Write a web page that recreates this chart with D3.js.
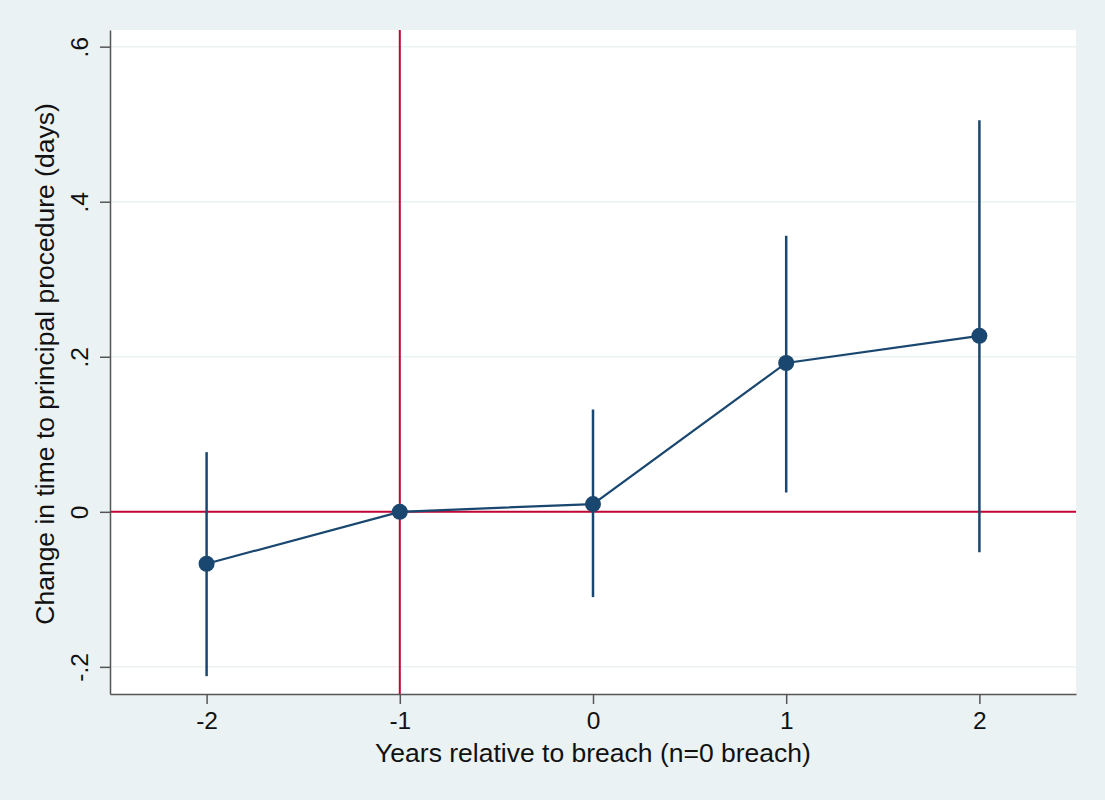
<!DOCTYPE html>
<html>
<head>
<meta charset="utf-8">
<script src="https://cdn.jsdelivr.net/npm/d3@7"></script>
<style>
  body { margin: 0; background: #eaf2f3; }
  text { font-family: "Liberation Sans", Arial, sans-serif; fill: #111; }
</style>
</head>
<body>
<div id="chart"></div>
<script>
const WIDTH = 1105, HEIGHT = 800;
const MARGIN = { top: 30, right: 29, bottom: 106, left: 110 };
const PLOT_W = WIDTH - MARGIN.left - MARGIN.right, PLOT_H = HEIGHT - MARGIN.top - MARGIN.bottom;

// data
const years = [-2, -1, 0, 1, 2];
const estimates = [-0.067, 0, 0.010, 0.192, 0.227];
const ciLow = [-0.212, null, -0.110, 0.025, -0.052];
const ciHigh = [0.077, null, 0.132, 0.356, 0.505];
const yTicks = [-0.2, 0, 0.2, 0.4, 0.6];
const yTickLabels = ["-.2", "0", ".2", ".4", ".6"];
const xTicks = [-2, -1, 0, 1, 2];
const xTickLabels = ["-2", "-1", "0", "1", "2"];
const refX = -1, refY = 0;

const NAVY = "#1a476f", RED = "#c10534";

const svg = d3.select("#chart").append("svg")
    .attr("width", WIDTH)
    .attr("height", HEIGHT);
svg.append("rect").attr("width", WIDTH).attr("height", HEIGHT).attr("fill", "#eaf2f3");

const g = svg.append("g").attr("transform", "translate(" + MARGIN.left + "," + MARGIN.top + ")");

let x = d3.scaleLinear().domain([-2.5, 2.5]).range([0, PLOT_W]);
let y = d3.scaleLinear().domain([-0.235, 0.6215]).range([PLOT_H, 0]);

g.append("rect").attr("width", PLOT_W).attr("height", PLOT_H).attr("fill", "#fff");

// gridlines
g.append("g").selectAll("line")
    .data(yTicks)
    .join("line")
    .attr("x1", 0).attr("x2", PLOT_W)
    .attr("y1", d => y(d)).attr("y2", d => y(d))
    .attr("stroke", "#eaf2f3")
    .attr("stroke-width", 1.5);

// reference lines
g.append("line")
    .attr("x1", 0).attr("x2", PLOT_W)
    .attr("y1", y(refY)).attr("y2", y(refY))
    .attr("stroke", RED).attr("stroke-width", 2);
g.append("line")
    .attr("x1", x(refX)).attr("x2", x(refX))
    .attr("y1", 0).attr("y2", PLOT_H)
    .attr("stroke", RED).attr("stroke-width", 2);

// axes
const yAxis = g.append("g")
    .attr("class", "yaxis")
    .call(d3.axisLeft(y).tickValues(yTicks).tickFormat((d, i) => yTickLabels[i]).tickSize(10).tickSizeOuter(0));
yAxis.select(".domain").attr("stroke", "#555").attr("stroke-width", 1.5);
yAxis.selectAll(".tick line").attr("stroke", "#555").attr("stroke-width", 1.5);
yAxis.selectAll(".tick text")
    .attr("font-size", 24.5)
    .attr("text-anchor", "middle")
    .attr("transform", "rotate(-90)")
    .attr("x", 0).attr("y", -22)
    .attr("dy", "0");

const xAxis = g.append("g")
    .attr("class", "xaxis")
    .attr("transform", "translate(0," + PLOT_H + ")")
    .call(d3.axisBottom(x).tickValues(xTicks).tickFormat((d, i) => xTickLabels[i]).tickSize(10).tickSizeOuter(0).tickPadding(8));
xAxis.select(".domain").attr("stroke", "#555").attr("stroke-width", 1.5);
xAxis.selectAll(".tick line").attr("stroke", "#555").attr("stroke-width", 1.5);
xAxis.selectAll(".tick text").attr("font-size", 24.5);

// confidence intervals
const ci = years.map((d, i) => ({ x: d, lo: ciLow[i], hi: ciHigh[i] })).filter(d => d.lo !== null);
g.append("g").selectAll("line")
    .data(ci)
    .join("line")
    .attr("x1", d => x(d.x)).attr("x2", d => x(d.x))
    .attr("y1", d => y(d.lo)).attr("y2", d => y(d.hi))
    .attr("stroke", NAVY).attr("stroke-width", 2.5);

// connecting line
const pts = years.map((d, i) => ({ x: d, y: estimates[i] }));
g.append("path")
    .datum(pts)
    .attr("d", d3.line().x(d => x(d.x)).y(d => y(d.y)))
    .attr("fill", "none")
    .attr("stroke", NAVY)
    .attr("stroke-width", 2.2);

g.append("g").selectAll("circle")
    .data(pts)
    .join("circle")
    .attr("cx", d => x(d.x)).attr("cy", d => y(d.y))
    .attr("r", 8)
    .attr("fill", NAVY);

// axis titles
svg.append("text")
    .attr("x", MARGIN.left + x(0)).attr("y", 762)
    .attr("text-anchor", "middle")
    .attr("font-size", 26.5)
    .text("Years relative to breach (n=0 breach)");
svg.append("text")
    .attr("transform", "translate(54," + (MARGIN.top + PLOT_H / 2 + 2) + ") rotate(-90)")
    .attr("text-anchor", "middle")
    .attr("font-size", 26.5)
    .text("Change in time to principal procedure (days)");
</script>
</body>
</html>
